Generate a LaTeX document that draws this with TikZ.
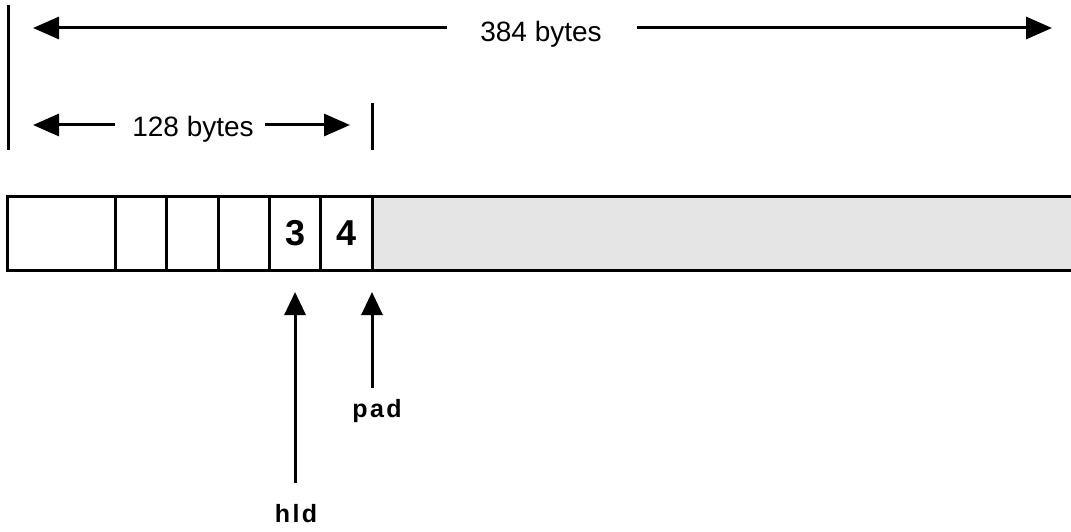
\documentclass[tikz,border=0pt]{standalone}
\usepackage{fontspec}
\setmainfont{Liberation Sans}
\newfontfamily\ptrfont[LetterSpace=10]{Liberation Sans}
\usetikzlibrary{arrows.meta, positioning}
\tikzset{
  cell/.style={rectangle, draw=black, line width=3pt, minimum width=51.3pt,
               minimum height=74pt, inner sep=0pt, outer sep=0pt,
               font=\fontsize{36}{36}\selectfont\bfseries},
  spare/.style={cell, fill=gray!20, minimum width=720pt},
  dimtip/.style={-{Triangle[length=26pt, width=22pt]}, line width=3pt},
  ptrarrow/.style={-{Triangle[length=23pt, width=21pt]}, line width=3pt},
  bound/.style={line width=3pt},
  dimlabel/.style={font=\fontsize{28}{28}\selectfont, inner sep=0pt, anchor=base},
  ptrlabel/.style={font=\ptrfont\bfseries\fontsize{25}{25}\selectfont,
                   inner sep=0pt, anchor=base},
}
\begin{document}
\begin{tikzpicture}[x=1pt, y=-1pt]
  \useasboundingbox (0,0) rectangle (1071,532);

  % record cells
  \node[cell, minimum width=108.5pt, anchor=north west] (c0) at (7,196) {};
  \node[cell, right=0pt of c0] (c1) {};
  \node[cell, right=0pt of c1] (c2) {};
  \node[cell, right=0pt of c2] (c3) {};
  \node[cell, right=0pt of c3] (c4) {3};
  \node[cell, right=0pt of c4] (c5) {4};
  \node[spare, right=0pt of c5] (rest) {};

  % boundary marks
  \coordinate (lt) at (8,5);
  \coordinate (lb) at (8,150);
  \draw[bound] (lt) -- (lb);
  \coordinate (mt) at (c5.east |- 0,103);
  \coordinate (mb) at (c5.east |- 0,150);
  \draw[bound] (mt) -- (mb);

  % 384 bytes
  \node[dimlabel] (whole) at (541,42) {384 bytes};
  \coordinate (wholeL) at (33,28);
  \coordinate (wholeR) at (1052,28);
  \draw[dimtip] ([xshift=-33pt]whole.west |- wholeL) -- (wholeL);
  \draw[dimtip] ([xshift=35pt]whole.east |- wholeR) -- (wholeR);

  % 128 bytes
  \node[dimlabel] (part) at (193,137) {128 bytes};
  \coordinate (partL) at (33,125);
  \coordinate (partR) at (350,125);
  \draw[dimtip] ([xshift=-17pt]part.west |- partL) -- (partL);
  \draw[dimtip] ([xshift=11pt]part.east |- partR) -- (partR);

  % pointers
  \node[ptrlabel] (hld) at (296,522) {hld};
  \node[ptrlabel] (padlbl) at (377,417) {pad};
  \coordinate (hldtail) at (c4.south |- 0,483);
  \coordinate (padtail) at (c5.south east |- 0,388);
  \draw[ptrarrow] (hldtail) -- ([yshift=-22pt]c4.south);
  \draw[ptrarrow] (padtail) -- ([yshift=-22pt]c5.south east);
\end{tikzpicture}
\end{document}
